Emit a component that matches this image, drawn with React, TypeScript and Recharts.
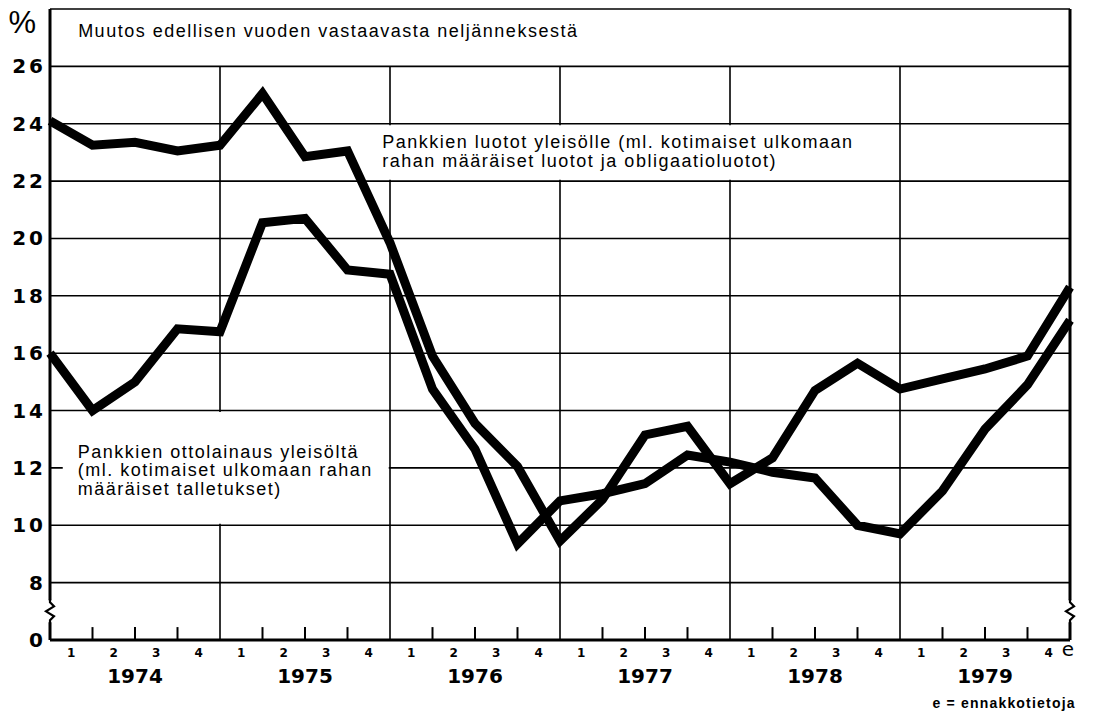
import {
  LineChart,
  Line,
  XAxis,
  YAxis,
  CartesianGrid,
  ReferenceLine,
  ReferenceArea,
  ReferenceDot,
} from 'recharts'

const YEARS = ['1974', '1975', '1976', '1977', '1978', '1979']
const QUARTERS = ['1', '2', '3', '4']

// values at quarter ends, from 1973/4 to 1979/4 (e)
const LOANS = [
  24.1, 23.25, 23.35, 23.05, 23.25, 25.05, 22.85, 23.05, 19.85, 15.9, 13.55,
  12.05, 9.45, 10.9, 13.15, 13.45, 11.45, 12.35, 14.7, 15.65, 14.75, 15.1,
  15.45, 15.9, 18.3,
]
const DEPOSITS = [
  16.0, 14.0, 15.0, 16.85, 16.75, 20.55, 20.7, 18.9, 18.75, 14.75, 12.65,
  9.35, 10.85, 11.1, 11.45, 12.45, 12.2, 11.85, 11.65, 10.0, 9.7, 11.2, 13.35,
  14.9, 17.15,
]

// the axis is broken: the lowest tick stands for 0
const Y_TICKS = [6, 8, 10, 12, 14, 16, 18, 20, 22, 24, 26, 28]
const Y_TICK_LABELS = ['0', '8', '10', '12', '14', '16', '18', '20', '22', '24', '26', '%']

const HEADER = 'Muutos edellisen vuoden vastaavasta neljänneksestä'
const LOANS_LABEL = [
  'Pankkien luotot yleisölle (ml. kotimaiset ulkomaan',
  'rahan määräiset luotot ja obligaatioluotot)',
]
const DEPOSITS_LABEL = [
  'Pankkien ottolainaus yleisöltä',
  '(ml. kotimaiset ulkomaan rahan',
  'määräiset talletukset)',
]
const FOOTNOTE = 'e = ennakkotietoja'

const X_MAX = YEARS.length * QUARTERS.length
const X_TICKS = YEARS.flatMap((_, yi) => [
  ...QUARTERS.map((_, qi) => yi * 4 + qi + 0.5),
  yi * 4 + 2,
])
const YEAR_LINES = YEARS.slice(1).map((_, i) => (i + 1) * 4)
const QUARTER_MARKS = Array.from({ length: X_MAX - 1 }, (_, i) => i + 1).filter(
  (k) => k % 4 !== 0
)

const data = LOANS.map((v, i) => ({ t: i, loans: v, deposits: DEPOSITS[i] }))

const SANS = 'Liberation Sans, Arial, sans-serif'
const WIDE = 'DejaVu Sans, sans-serif'
const INK = '#000'

function XTick(props: any) {
  const { x, y, payload } = props
  const v = payload.value
  if (Number.isInteger(v)) {
    return (
      <text x={x} y={y + 43} textAnchor="middle" fontFamily={WIDE} fontWeight="bold" fontSize={20} fill={INK}>
        {YEARS[(v - 2) / 4]}
      </text>
    )
  }
  const last = v === X_MAX - 0.5
  return (
    <g>
      <text x={x} y={y + 17} textAnchor="middle" fontFamily={WIDE} fontWeight="bold" fontSize={12} fill={INK}>
        {QUARTERS[Math.floor(v) % 4]}
      </text>
      {last && (
        <text x={x + 13} y={y + 16} fontFamily={WIDE} fontSize={20} fill={INK}>
          e
        </text>
      )}
      {last && (
        <text x={x + 27} y={y + 68} textAnchor="end" fontFamily={SANS} fontWeight="bold" fontSize={14} letterSpacing={1.2} fill={INK}>
          {FOOTNOTE}
        </text>
      )}
    </g>
  )
}

function YTick(props: any) {
  const { x, y, payload, side } = props
  const label = Y_TICK_LABELS[Y_TICKS.indexOf(payload.value)]
  const left = side === 'left'
  if (label === '%') {
    return (
      <text x={left ? x - 7 : x} y={y + 24} textAnchor={left ? 'end' : 'start'} fontFamily={SANS} fontSize={31} fill={INK}>
        %
      </text>
    )
  }
  return (
    <text
      x={left ? x + 3 : x}
      y={y + 7}
      textAnchor={left ? 'end' : 'start'}
      fontFamily={WIDE}
      fontWeight="bold"
      fontSize={20}
      letterSpacing={3}
      fill={INK}
    >
      {label}
    </text>
  )
}

function BoxText(props: any) {
  const { viewBox, lines, dx, dy } = props
  if (!viewBox) return null
  return (
    <text x={viewBox.x + dx} y={viewBox.y + dy} fontFamily={SANS} fontSize={18} letterSpacing={1.5} fill={INK}>
      {lines.map((line: string, i: number) => (
        <tspan key={i} x={viewBox.x + dx} dy={i === 0 ? 0 : 18.5}>
          {line}
        </tspan>
      ))}
    </text>
  )
}

function AxisBreak(props: any) {
  const { cx, cy } = props
  return (
    <g>
      <rect x={cx - 5} y={cy - 11} width={10} height={22} fill="#fff" />
      <path
        d={`M${cx},${cy - 12} L${cx},${cy - 9} L${cx + 4},${cy - 5} L${cx - 4},${cy} L${cx + 4},${cy + 5} L${cx},${cy + 9} L${cx},${cy + 12}`}
        stroke={INK}
        strokeWidth={2.2}
        fill="none"
      />
    </g>
  )
}

export default function App() {
  return (
    <div style={{ position: 'absolute', left: 0, top: 0, width: 1120, height: 711, background: '#fff' }}>
      <LineChart width={1120} height={711} data={data} margin={{ top: 9, right: 0, bottom: 0, left: 0 }}>
        <CartesianGrid vertical={false} stroke={INK} strokeWidth={1.6} />

        {YEAR_LINES.map((k) => (
          <ReferenceLine
            key={`y${k}`}
            segment={[
              { x: k, y: 6 },
              { x: k, y: 26 },
            ]}
            stroke={INK}
            strokeWidth={1.6}
            zIndex={-90}
          />
        ))}
        {QUARTER_MARKS.map((k) => (
          <ReferenceLine
            key={`q${k}`}
            segment={[
              { x: k, y: 6 },
              { x: k, y: 6.45 },
            ]}
            stroke={INK}
            strokeWidth={2}
            zIndex={-90}
          />
        ))}

        <ReferenceArea
          x1={0.05}
          x2={23.95}
          y1={26.05}
          y2={27.95}
          fill="#fff"
          fillOpacity={0}
          stroke="none"
          zIndex={-80}
          label={<BoxText lines={[HEADER]} dx={26} dy={26.6} />}
        />
        <ReferenceArea
          x1={7.7}
          x2={17.6}
          y1={22.05}
          y2={23.95}
          fill="#fff"
          fillOpacity={1}
          stroke="none"
          zIndex={-80}
          label={<BoxText lines={LOANS_LABEL} dx={5} dy={23} />}
        />
        <ReferenceArea
          x1={0.3}
          x2={7.97}
          y1={10.05}
          y2={13.95}
          fill="#fff"
          fillOpacity={1}
          stroke="none"
          zIndex={-80}
          label={<BoxText lines={DEPOSITS_LABEL} dx={15} dy={46} />}
        />

        <XAxis
          dataKey="t"
          type="number"
          domain={[0, X_MAX]}
          ticks={X_TICKS}
          interval={0}
          height={71}
          tickSize={0}
          tickMargin={0}
          tickLine={false}
          axisLine={{ stroke: INK, strokeWidth: 3 }}
          tick={<XTick />}
        />
        <YAxis
          type="number"
          domain={[6, 28]}
          ticks={Y_TICKS}
          interval={0}
          width={50}
          tickSize={0}
          tickMargin={7}
          tickLine={false}
          axisLine={{ stroke: INK, strokeWidth: 3 }}
          tick={<YTick side="left" />}
        />
        <YAxis
          yAxisId="r"
          orientation="right"
          type="number"
          domain={[6, 28]}
          ticks={Y_TICKS}
          interval={0}
          width={50}
          tickSize={0}
          tickMargin={15}
          tickLine={false}
          axisLine={{ stroke: INK, strokeWidth: 3 }}
          tick={<YTick side="right" />}
        />

        <Line
          type="linear"
          dataKey="loans"
          stroke={INK}
          strokeWidth={9}
          strokeLinejoin="miter"
          dot={false}
          activeDot={false}
          isAnimationActive={false}
        />
        <Line
          type="linear"
          dataKey="deposits"
          stroke={INK}
          strokeWidth={9}
          strokeLinejoin="miter"
          dot={false}
          activeDot={false}
          isAnimationActive={false}
        />

        <ReferenceDot x={0} y={7} r={0} ifOverflow="visible" zIndex={600} shape={<AxisBreak />} />
        <ReferenceDot x={X_MAX} y={7} r={0} ifOverflow="visible" zIndex={600} shape={<AxisBreak />} />
      </LineChart>
    </div>
  )
}
